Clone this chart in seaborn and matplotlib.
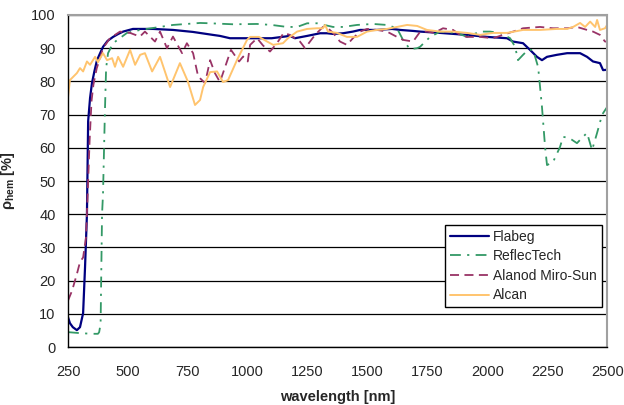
import matplotlib
matplotlib.use("Agg")
import matplotlib.pyplot as plt
import seaborn as sns

# hemispherical reflectance of mirror materials
flabeg_nm = [250, 258, 270, 287, 300, 313, 321, 329, 334, 342,
             350, 360, 371, 384, 396, 415, 438, 460, 480, 521,
             605, 688, 771, 855, 884, 926, 1010, 1100, 1176, 1197,
             1248, 1302, 1331, 1356, 1398, 1439, 1469, 1539, 1602, 1636,
             1690, 1719, 1803, 1915, 1999, 2082, 2107, 2149, 2178, 2207,
             2228, 2249, 2290, 2333, 2358, 2387, 2416, 2441, 2470, 2483, 2500]
flabeg = [9, 7.2, 6, 5.1, 6, 10.2, 24, 40, 68, 75,
          79.5, 83, 86.4, 88.5, 90.4, 92.2, 93.4, 94.3, 95, 95.8,
          95.8, 95.5, 94.9, 94, 93.7, 93, 93, 93, 93.7, 93,
          93.7, 94.5, 94.5, 94.3, 94.5, 95, 95.5, 95.5, 95.8, 95.5,
          95.2, 95, 94.6, 94, 93.4, 93, 92, 91.5, 89.5, 87.4,
          86.4, 87.4, 88, 88.5, 88.5, 88.5, 87.4, 86, 85.5, 83.4, 83.5]

reflectech_nm = [250, 300, 350, 375, 380, 386, 392, 396, 404, 409,
                 417, 438, 496, 551, 634, 688, 801, 843, 939, 1039,
                 1100, 1164, 1206, 1248, 1289, 1356, 1398, 1456, 1523, 1581,
                 1623, 1648, 1677, 1707, 1719, 1761, 1803, 1873, 1915, 1970,
                 2011, 2053, 2095, 2116, 2128, 2149, 2170, 2191, 2212, 2228,
                 2241, 2249, 2274, 2303, 2316, 2341, 2374, 2395, 2416, 2437, 2458, 2479, 2500]
reflectech = [4.5, 4.2, 4, 4, 4.5, 7, 40, 46, 71, 84,
              88.5, 91.5, 94.6, 95.5, 96.4, 97, 97.6, 97.5, 97.2, 97.3,
              97, 96.4, 96.4, 97.5, 97.5, 96.4, 96.4, 97, 97.3, 97,
              96, 92.5, 89.7, 90, 90.4, 93.4, 95, 94.6, 93.4, 95,
              95, 94.6, 93, 90.4, 86.4, 88, 89.5, 89.5, 84.3, 72.3,
              60.2, 54.8, 55.7, 60.2, 63.3, 63, 61.4, 63, 64.5, 59.3, 64.5, 70, 72.3]

alanod_nm = [250, 267, 287, 300, 313, 325, 332, 340, 348, 356,
             370, 384, 396, 425, 467, 509, 550, 571, 613, 634,
             663, 688, 726, 746, 772, 793, 822, 843, 863, 884,
             930, 964, 981, 1000, 1010, 1039, 1064, 1093, 1122, 1150,
             1176, 1218, 1239, 1260, 1281, 1314, 1335, 1356, 1385, 1414,
             1439, 1469, 1498, 1539, 1581, 1623, 1648, 1690, 1720, 1750,
             1778, 1815, 1857, 1886, 1915, 1970, 2024, 2065, 2107, 2149,
             2220, 2274, 2333, 2374, 2416, 2441, 2470, 2491, 2500]
alanod = [14, 17, 22, 25.6, 27, 33, 46, 62, 74, 79,
          84, 87, 90, 93, 95, 94.6, 93.5, 95, 92, 95,
          90, 93.5, 88.5, 91.5, 88.5, 81.5, 79.5, 86.4, 82.5, 79.8,
          89.5, 86, 87.5, 86, 91, 93, 90.8, 89, 91.5, 94.6,
          94, 92, 90, 92, 94, 96.4, 96, 94.6, 92, 91,
          93, 95, 95.8, 95.5, 95, 93.4, 92.5, 92, 95, 95,
          94.6, 96, 95.5, 94, 93.4, 93.4, 93, 94, 95, 96,
          96.4, 96, 96, 96.4, 95.5, 95, 94, 92, 92]

alcan_nm = [250, 258, 287, 300, 313, 329, 342, 363, 375, 396,
            413, 434, 446, 459, 480, 509, 530, 551, 571, 601,
            634, 676, 717, 750, 780, 801, 814, 843, 872, 897,
            918, 955, 997, 1010, 1047, 1081, 1106, 1147, 1168, 1206,
            1248, 1289, 1314, 1323, 1335, 1373, 1414, 1456, 1498, 1539,
            1581, 1623, 1665, 1707, 1748, 1803, 1857, 1915, 1970, 2024,
            2082, 2149, 2220, 2290, 2333, 2358, 2387, 2408, 2429, 2450,
            2458, 2470, 2491, 2500]
alcan = [75.3, 80.4, 82.5, 84, 83, 86, 85, 87.4, 85.8, 88.5,
         86.4, 87, 84.4, 87.4, 84.4, 89.5, 85, 88, 88.5, 83,
         87.4, 78.3, 85.5, 80, 72.9, 74.4, 78.3, 82.8, 83, 79.8,
         80.4, 86.4, 92.5, 93.4, 93.4, 92, 91, 91.5, 93, 95,
         95.8, 96, 96, 97, 95, 94.6, 93.4, 93.4, 95, 95.5,
         95.8, 96.4, 97, 96.7, 95.5, 95, 95, 94.6, 94, 94.6,
         94.6, 95.5, 95.5, 95.8, 95.8, 96.4, 97.6, 96.4, 98, 96.4,
         98.5, 95.5, 96, 97]

sns.set_style("white")
plt.rcParams["font.family"] = ["Liberation Sans", "DejaVu Sans"]
plt.rcParams["mathtext.fontset"] = "custom"
plt.rcParams["mathtext.bf"] = "Liberation Sans:bold"

fig, ax = plt.subplots(figsize=(6.24, 4.05), dpi=100)
fig.subplots_adjust(left=0.109, right=0.973, top=0.963, bottom=0.143)

lines = [
    (flabeg_nm, flabeg, "Flabeg", "#000080", "-", 1.6),
    (reflectech_nm, reflectech, "ReflecTech", "#339966", (0, (6, 3.5, 1.2, 3.5)), 1.3),
    (alanod_nm, alanod, "Alanod Miro-Sun", "#993366", (0, (5, 3)), 1.3),
    (alcan_nm, alcan, "Alcan", "#FFC46E", "-", 1.4),
]
for nm, val, name, col, ls, lw in lines:
    sns.lineplot(x=nm, y=val, ax=ax, color=col, linestyle=ls, linewidth=lw,
                 label=name, estimator=None)

ax.set_xlim(250, 2500)
ax.set_ylim(0, 100)
ax.set_xticks(range(250, 2501, 250))
ax.set_yticks(range(0, 101, 10))
ax.grid(axis="y", color="black", linewidth=0.9)
ax.grid(axis="x", visible=False)
ax.set_axisbelow(True)

for side in ["left", "bottom"]:
    ax.spines[side].set_color("black")
    ax.spines[side].set_linewidth(1)
for side in ["top", "right"]:
    ax.spines[side].set_color("#a0a0a0")
    ax.spines[side].set_linewidth(1.5)
ax.tick_params(direction="out", length=4, width=1, color="black", labelsize=10.5)
ax.tick_params(axis="x", pad=9)
ax.tick_params(axis="y", pad=5)

ax.set_xlabel("wavelength [nm]", fontweight="bold", fontsize=10.5, labelpad=8)
ax.set_ylabel("ρ$_{\\mathbf{hem}}$ [%]", fontweight="bold", fontsize=10.5, labelpad=10)

leg = ax.legend(loc="lower left", bbox_to_anchor=(0.70, 0.12), fontsize=10,
                frameon=True, fancybox=False, framealpha=1, edgecolor="black",
                handlelength=2.8, borderpad=0.35, labelspacing=0.4, handletextpad=0.3,
                borderaxespad=0)
leg.get_frame().set_linewidth(1)

plt.savefig("out.png", dpi=100)
